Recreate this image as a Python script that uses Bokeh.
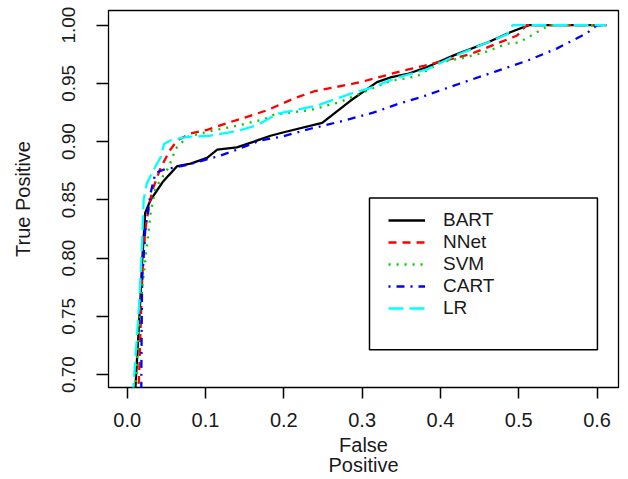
from bokeh.plotting import figure
from bokeh.models import Range1d, FixedTicker, PrintfTickFormatter, Legend, LegendItem, BoxAnnotation
from bokeh.embed import file_html
from bokeh.resources import INLINE

# ---- data ----
bart_fpr = [0.008, 0.0106, 0.017, 0.019, 0.023, 0.030, 0.038, 0.045, 0.053, 0.064, 0.081, 0.102, 0.115, 0.140,
            0.162, 0.183, 0.200, 0.249, 0.285, 0.319, 0.336, 0.358, 0.383, 0.417, 0.460, 0.490, 0.513, 0.612]
bart_tpr = [0.680, 0.690, 0.767, 0.796, 0.839, 0.850, 0.858, 0.865, 0.871, 0.879, 0.881, 0.886, 0.893, 0.895,
            0.900, 0.905, 0.908, 0.916, 0.935, 0.951, 0.955, 0.958, 0.964, 0.974, 0.985, 0.994, 1.000, 1.000]

nnet_fpr = [0.013, 0.015, 0.017, 0.019, 0.023, 0.028, 0.032, 0.043, 0.055, 0.064, 0.081, 0.102, 0.128, 0.157,
            0.179, 0.213, 0.238, 0.268, 0.298, 0.353, 0.379, 0.438, 0.468, 0.498, 0.510, 0.612]
nnet_tpr = [0.680, 0.696, 0.738, 0.781, 0.824, 0.845, 0.858, 0.878, 0.893, 0.901, 0.907, 0.910, 0.916, 0.922,
            0.927, 0.937, 0.943, 0.947, 0.951, 0.961, 0.965, 0.975, 0.983, 0.991, 1.000, 1.000]

svm_fpr = [0.009, 0.0106, 0.015, 0.019, 0.025, 0.030, 0.036, 0.053, 0.062, 0.077, 0.106, 0.136, 0.174, 0.187,
           0.234, 0.272, 0.311, 0.336, 0.370, 0.400, 0.430, 0.458, 0.485, 0.500, 0.513, 0.526, 0.540, 0.612]
svm_tpr = [0.680, 0.690, 0.740, 0.773, 0.810, 0.839, 0.860, 0.878, 0.894, 0.904, 0.909, 0.913, 0.919, 0.923,
           0.927, 0.934, 0.945, 0.952, 0.956, 0.968, 0.972, 0.977, 0.984, 0.985, 0.990, 0.995, 1.000, 1.000]

cart_fpr = [0.018, 0.018, 0.019, 0.023, 0.030, 0.036, 0.047, 0.077, 0.119, 0.140, 0.170, 0.196, 0.234, 0.277,
            0.315, 0.349, 0.375, 0.396, 0.430, 0.470, 0.513, 0.549, 0.587, 0.600, 0.612]
cart_tpr = [0.680, 0.700, 0.781, 0.824, 0.856, 0.873, 0.876, 0.880, 0.888, 0.893, 0.901, 0.904, 0.911, 0.918,
            0.925, 0.933, 0.938, 0.943, 0.951, 0.960, 0.970, 0.980, 0.993, 1.000, 1.000]

lr_fpr = [0.007, 0.008, 0.015, 0.019, 0.021, 0.025, 0.034, 0.043, 0.047, 0.055, 0.077, 0.106, 0.140, 0.166,
          0.192, 0.243, 0.281, 0.315, 0.341, 0.383, 0.420, 0.460, 0.485, 0.492, 0.612]
lr_tpr = [0.680, 0.690, 0.758, 0.813, 0.850, 0.864, 0.876, 0.887, 0.898, 0.901, 0.904, 0.905, 0.909, 0.914,
          0.924, 0.931, 0.940, 0.947, 0.954, 0.962, 0.974, 0.985, 0.992, 1.000, 1.000]

model_names = ["BART", "NNet", "SVM", "CART", "LR"]
x_ticks = [0.0, 0.1, 0.2, 0.3, 0.4, 0.5, 0.6]
y_ticks = [0.70, 0.75, 0.80, 0.85, 0.90, 0.95, 1.00]
x_label = "False\nPositive"
y_label = "True Positive"

FONT = "Liberation Sans"
TXT = "#1a1a1a"

p = figure(width=628, height=479, output_backend="svg", toolbar_location=None,
           x_range=Range1d(-0.0239, 0.6274), y_range=Range1d(0.6889, 1.0125),
           min_border_left=108, min_border_right=10, min_border_top=10, min_border_bottom=91)
p.grid.visible = False
p.outline_line_color = "black"
p.outline_line_width = 1.3
p.background_fill_color = "white"
p.border_fill_color = "white"

series = [
    (bart_fpr, bart_tpr, "#000000", "solid"),
    (nnet_fpr, nnet_tpr, "#ff0000", "8 6"),
    (svm_fpr, svm_tpr, "#00cd00", "2 6"),
    (cart_fpr, cart_tpr, "#0000ff", "2 6 8 6"),
    (lr_fpr, lr_tpr, "#00ffff", "15 6"),
]
renderers = []
for fx, ty, col, dash in series:
    r = p.line(fx, ty, line_color=col, line_width=2.3, line_dash=dash)
    renderers.append(r)

# axes
p.xaxis.ticker = FixedTicker(ticks=x_ticks)
p.yaxis.ticker = FixedTicker(ticks=y_ticks)
p.xaxis.formatter = PrintfTickFormatter(format="%.1f")
p.yaxis.formatter = PrintfTickFormatter(format="%.2f")
for ax in (p.xaxis[0], p.yaxis[0]):
    ax.axis_line_color = None
    ax.major_tick_in = 0
    ax.minor_tick_line_color = None
    ax.major_tick_line_color = "black"
    ax.major_tick_line_width = 1.5
    ax.major_label_text_font = FONT
    ax.major_label_text_color = TXT
    ax.axis_label_text_font = FONT
    ax.axis_label_text_font_style = "normal"
    ax.axis_label_text_color = TXT
p.xaxis.major_label_text_font_size = "20px"
p.yaxis.major_label_text_font_size = "19px"
p.yaxis.axis_label_text_font_size = "20px"
p.xaxis.axis_label_text_font_size = "20px"
p.xaxis.axis_label_text_line_height = 0.95
p.xaxis.major_tick_out = 11
p.yaxis.major_tick_out = 12
p.yaxis.major_label_orientation = "vertical"
p.xaxis.major_label_standoff = 14
p.yaxis.major_label_standoff = 21
p.xaxis.axis_label = x_label
p.xaxis.axis_label_standoff = 4
p.yaxis.axis_label = y_label
p.yaxis.axis_label_standoff = 26

# legend frame
box = BoxAnnotation(left=0.3094, right=0.6005, bottom=0.7214, top=0.8515,
                    fill_color="white", fill_alpha=1.0, line_color="black", line_alpha=1.0, line_width=1.5)
p.add_layout(box)

items = [LegendItem(label=n, renderers=[r]) for n, r in zip(model_names, renderers)]
legend = Legend(items=items, location=(280, 68), border_line_color=None, background_fill_alpha=0,
                padding=0, margin=0, spacing=0, glyph_width=37, glyph_height=22, label_height=22,
                label_standoff=18, label_text_font=FONT, label_text_font_size="19px", label_text_color=TXT)
p.add_layout(legend)

open("out.html", "w").write(file_html(p, INLINE))
